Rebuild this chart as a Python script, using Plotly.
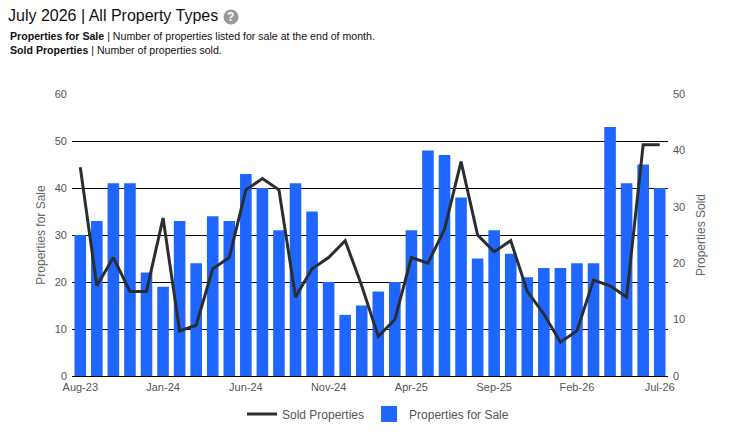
import plotly.graph_objects as go

months = ["Aug-23","Sep-23","Oct-23","Nov-23","Dec-23","Jan-24","Feb-24","Mar-24","Apr-24","May-24",
          "Jun-24","Jul-24","Aug-24","Sep-24","Oct-24","Nov-24","Dec-24","Jan-25","Feb-25","Mar-25",
          "Apr-25","May-25","Jun-25","Jul-25","Aug-25","Sep-25","Oct-25","Nov-25","Dec-25","Jan-26",
          "Feb-26","Mar-26","Apr-26","May-26","Jun-26","Jul-26"]
for_sale = [30,33,41,41,22,19,33,24,34,33,
            43,40,31,41,35,20,13,15,18,20,
            31,48,47,38,25,31,26,21,23,23,
            24,24,53,41,45,40]
sold = [37,16,21,15,15,28,8,9,19,21,
        33,35,33,14,19,21,24,16,7,10,
        21,20,26,38,25,22,24,15,11,6,
        8,17,16,14,41,41]
tick_labels = ["Aug-23","Jan-24","Jun-24","Nov-24","Apr-25","Sep-25","Feb-26","Jul-26"]

FONT = "Liberation Sans, Arial, sans-serif"
OFF = 8  # page body margin
W, H = 756, 447
ML, MT = 72 - OFF, 94 - OFF
MR = W - (668 - OFF)
MB = H - (376 - OFF)
pw, ph = W - ML - MR, H - MT - MB

def px(x):
    return (x - OFF - ML) / pw

def py(y):
    return (H - MB - (y - OFF)) / ph

BAR_COLOR = "#1f66ff"
LINE_COLOR = "#2b2e31"
TICK_COLOR = "#555555"

fig = go.Figure()
fig.add_trace(go.Bar(x=months, y=for_sale, name="Properties for Sale",
                     marker=dict(color=BAR_COLOR, line=dict(width=0)), width=0.7,
                     showlegend=False))
fig.add_trace(go.Scatter(x=months, y=sold, name="Sold Properties", mode="lines",
                         line=dict(color=LINE_COLOR, width=3), yaxis="y2", showlegend=True,
                         legendrank=1))
# legend proxy for bars (large square)
fig.add_trace(go.Scatter(x=[None], y=[None], name="Properties for Sale", mode="markers",
                         marker=dict(symbol="square", color=BAR_COLOR, size=16),
                         showlegend=True, legendrank=2))

fig.update_layout(
    template="none",
    width=W, height=H,
    margin=dict(l=ML, r=MR, t=MT, b=MB, autoexpand=False),
    paper_bgcolor="white", plot_bgcolor="white",
    font=dict(family=FONT, size=11, color=TICK_COLOR),
    showlegend=True,
    legend=dict(orientation="h", x=px(378), xanchor="center", y=py(414), yanchor="middle",
                font=dict(size=12, color=TICK_COLOR), traceorder="normal", itemsizing="trace",
                tracegroupgap=0, bgcolor="rgba(0,0,0,0)"),
    xaxis=dict(type="category", range=[-0.5, 35.5], tickmode="array", automargin=False,
               tickvals=tick_labels, ticktext=tick_labels, showgrid=False,
               showline=False, zeroline=False, ticks="", ticklabelstandoff=3,
               tickfont=dict(size=11, color=TICK_COLOR)),
    yaxis=dict(range=[0, 60], dtick=10, showgrid=True, gridcolor="#000", gridwidth=1,
               zeroline=True, zerolinecolor="#000", zerolinewidth=1, automargin=False,
               showline=False, ticks="",
               title=dict(text="Properties for Sale", font=dict(size=12, color="#666"), standoff=6),
               tickfont=dict(size=11, color=TICK_COLOR), ticklabelstandoff=4),
    yaxis2=dict(range=[0, 50], dtick=10, overlaying="y", side="right", showgrid=False,
                zeroline=False, automargin=False, showline=False, ticks="",
                title=dict(text="Properties Sold", font=dict(size=12, color="#666"), standoff=12),
                tickfont=dict(size=11, color=TICK_COLOR), ticklabelstandoff=4),
    bargap=0.3,
)

# Title and subtitle
fig.add_annotation(xref="paper", yref="paper", x=px(6), y=py(5),
                   xanchor="left", yanchor="top", showarrow=False, align="left",
                   text="July 2026 | All Property Types", font=dict(size=16, color="#111", family=FONT))
fig.add_annotation(xref="paper", yref="paper", x=px(8), y=py(28),
                   xanchor="left", yanchor="top", showarrow=False, align="left",
                   text="<b>Properties for Sale</b> | Number of properties listed for sale at the end of month.<br><b>Sold Properties</b> | Number of properties sold.",
                   font=dict(size=10.6, color="#111", family=FONT))

# question mark icon
cx, cy, r = 231, 17, 7.5
fig.add_shape(type="circle", xref="paper", yref="paper",
              x0=px(cx - r), x1=px(cx + r), y0=py(cy + r), y1=py(cy - r),
              fillcolor="#999", line=dict(width=0))
fig.add_annotation(xref="paper", yref="paper", x=px(cx), y=py(cy),
                   xanchor="center", yanchor="middle", showarrow=False,
                   text="<b>?</b>", font=dict(size=12, color="white", family=FONT))

fig.write_html("out.html")
